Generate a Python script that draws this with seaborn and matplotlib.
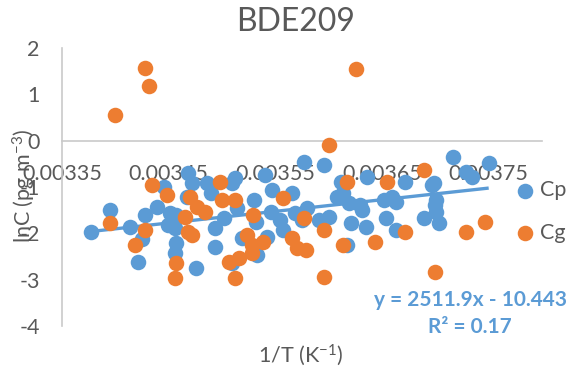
import numpy as np
import pandas as pd
import matplotlib
matplotlib.use("Agg")
import matplotlib.pyplot as plt
import seaborn as sns

# Particle phase (Cp): 1/T (K^-1) and lnC (pg m^-3)
cp_x = [0.003377, 0.003395, 0.003414, 0.003421, 0.003425, 0.003428, 0.003439, 0.003446,
        0.003451, 0.003457, 0.003449, 0.003456, 0.003457, 0.003456, 0.003467, 0.003468,
        0.003472, 0.003486, 0.003490, 0.003493, 0.003493, 0.003476, 0.003502, 0.003509,
        0.003512, 0.003514, 0.003530, 0.003532, 0.003519, 0.003540, 0.003547, 0.003546,
        0.003542, 0.003554, 0.003557, 0.003566, 0.003568, 0.003575, 0.003580, 0.003577,
        0.003509, 0.003533, 0.003596, 0.003612, 0.003613, 0.003619, 0.003631, 0.003636,
        0.003652, 0.003659, 0.003654, 0.003672, 0.003663, 0.003635, 0.003621, 0.003600,
        0.003591, 0.003617, 0.003689, 0.003697, 0.003700, 0.003717, 0.003750, 0.003729,
        0.003734, 0.003699, 0.003701, 0.003701, 0.003703, 0.003663, 0.003629, 0.003608]
cp_y = [-1.97, -1.50, -1.86, -2.62, -2.12, -1.61, -1.43, -1.00,
        -1.56, -1.61, -1.82, -1.89, -2.21, -2.43, -1.22, -0.70,
        -0.92, -0.92, -1.13, -1.89, -2.30, -2.75, -1.67, -0.92,
        -0.81, -1.45, -1.28, -1.76, -2.10, -0.74, -1.07, -1.54,
        -2.08, -1.71, -1.93, -1.13, -1.56, -1.71, -1.45, -0.46,
        -2.64, -2.47, -0.53, -0.89, -1.13, -1.35, -1.50, -0.79,
        -1.28, -1.22, -1.67, -0.89, -1.93, -1.86, -1.78, -1.65,
        -1.71, -2.25, -1.67, -0.96, -1.39, -0.35, -0.48, -0.68,
        -0.79, -0.92, -1.28, -1.54, -1.78, -1.33, -1.39, -1.22]

# Gas phase (Cg)
cg_x = [0.003400, 0.003428, 0.003432, 0.003626, 0.003600, 0.003395, 0.003418, 0.003428,
        0.003434, 0.003448, 0.003457, 0.003456, 0.003465, 0.003468, 0.003498, 0.003470,
        0.003477, 0.003484, 0.003472, 0.003500, 0.003512, 0.003529, 0.003523, 0.003528,
        0.003538, 0.003528, 0.003516, 0.003507, 0.003512, 0.003557, 0.003566, 0.003570,
        0.003579, 0.003577, 0.003617, 0.003655, 0.003689, 0.003596, 0.003613, 0.003643,
        0.003672, 0.003596, 0.003700, 0.003729, 0.003747]
cg_y = [0.55, 1.57, 1.18, 1.55, -0.09, -1.78, -2.25, -1.93,
        -0.96, -1.17, -2.64, -2.97, -1.65, -1.97, -0.89, -1.22,
        -1.43, -1.54, -2.04, -1.28, -1.28, -1.61, -2.04, -2.25,
        -2.19, -2.43, -2.53, -2.62, -2.97, -1.24, -2.10, -2.32,
        -2.36, -1.67, -0.89, -0.89, -0.64, -1.93, -2.25, -2.19,
        -1.97, -2.94, -2.84, -1.97, -1.76]

# Linear trendline of Cp
slope = 2511.9
intercept = -10.443
r_squared = 0.17

x_ticks = [0.00335, 0.00345, 0.00355, 0.00365, 0.00375]
x_tick_labels = ["0.00335", "0.00345", "0.00355", "0.00365", "0.00375"]
y_ticks = [-4, -3, -2, -1, 0, 1, 2]

BLUE = "#5B9BD5"
ORANGE = "#ED7D31"
TEXT = "#595959"
AXIS = "#C9C9C9"

sns.set_style("white")
plt.rcParams["font.family"] = ["Lato", "DejaVu Sans"]
plt.rcParams["mathtext.fontset"] = "custom"
plt.rcParams["mathtext.rm"] = "Lato"
plt.rcParams["mathtext.it"] = "Lato:italic"
plt.rcParams["mathtext.default"] = "regular"

df = pd.concat([
    pd.DataFrame({"x": cp_x, "y": cp_y, "series": "Cp"}),
    pd.DataFrame({"x": cg_x, "y": cg_y, "series": "Cg"}),
], ignore_index=True)

fig = plt.figure(figsize=(5.72, 3.69), dpi=100)
ax = fig.add_axes([0.1084, 0.1165, 0.8392, 0.7535])

sns.scatterplot(data=df[df.series == "Cp"], x="x", y="y", color=BLUE, s=125,
                linewidth=0, ax=ax, label="Cp", zorder=3)
tx = np.array([min(cp_x), max(cp_x)])
ax.plot(tx, slope * tx + intercept, color=BLUE, lw=2.4, zorder=4,
        solid_capstyle="butt")
sns.scatterplot(data=df[df.series == "Cg"], x="x", y="y", color=ORANGE, s=125,
                linewidth=0, ax=ax, label="Cg", zorder=5)

ax.set_xlim(0.00335, 0.0038)
ax.set_ylim(-4, 2)
ax.set_xticks(x_ticks)
ax.set_xticklabels(x_tick_labels)
ax.set_yticks(y_ticks)
ax.set_yticklabels([str(v) for v in y_ticks])

for side in ("top", "right"):
    ax.spines[side].set_visible(False)
ax.spines["bottom"].set_position(("data", 0))
ax.spines["bottom"].set_color(AXIS)
ax.spines["left"].set_color(AXIS)
ax.spines["bottom"].set_linewidth(1.2)
ax.spines["left"].set_linewidth(1.2)
ax.spines["bottom"].set_zorder(1)
ax.tick_params(axis="x", length=0, pad=17, labelsize=15.5, labelcolor=TEXT)
ax.tick_params(axis="y", length=0, pad=16, labelsize=15.5, labelcolor=TEXT)
ax.set_xlabel("")
ax.set_ylabel("")
ax.grid(False)

fig.text(0.5175, 1 - 22 / 369, "BDE209", ha="center", va="center",
         fontsize=23, color=TEXT)
fig.text(0.526, 1 - 355 / 369, "1/T (K$^{-1}$)", ha="center", va="center",
         fontsize=15.5, color=TEXT)
fig.text(24 / 572, 1 - 186 / 369, "lnC (pg m$^{-3}$)", ha="center", va="center",
         rotation=90, fontsize=15.5, color=TEXT)

fig.text(470 / 572, 1 - 300 / 369, f"y = {slope}x - {abs(intercept)}",
         ha="center", va="center", fontsize=15, fontweight="bold", color=BLUE)
fig.text(470 / 572, 1 - 327 / 369, f"R² = {r_squared}",
         ha="center", va="center", fontsize=15, fontweight="bold", color=BLUE)

leg = ax.legend(loc="center left", bbox_to_anchor=(514 / 572, 1 - 211.5 / 369),
                bbox_transform=fig.transFigure, frameon=False, fontsize=15.5,
                handlelength=1.0, handletextpad=0.2, borderpad=0, borderaxespad=0,
                labelspacing=1.05)
for t in leg.get_texts():
    t.set_color(TEXT)

fig.savefig("out.png", dpi=100)
